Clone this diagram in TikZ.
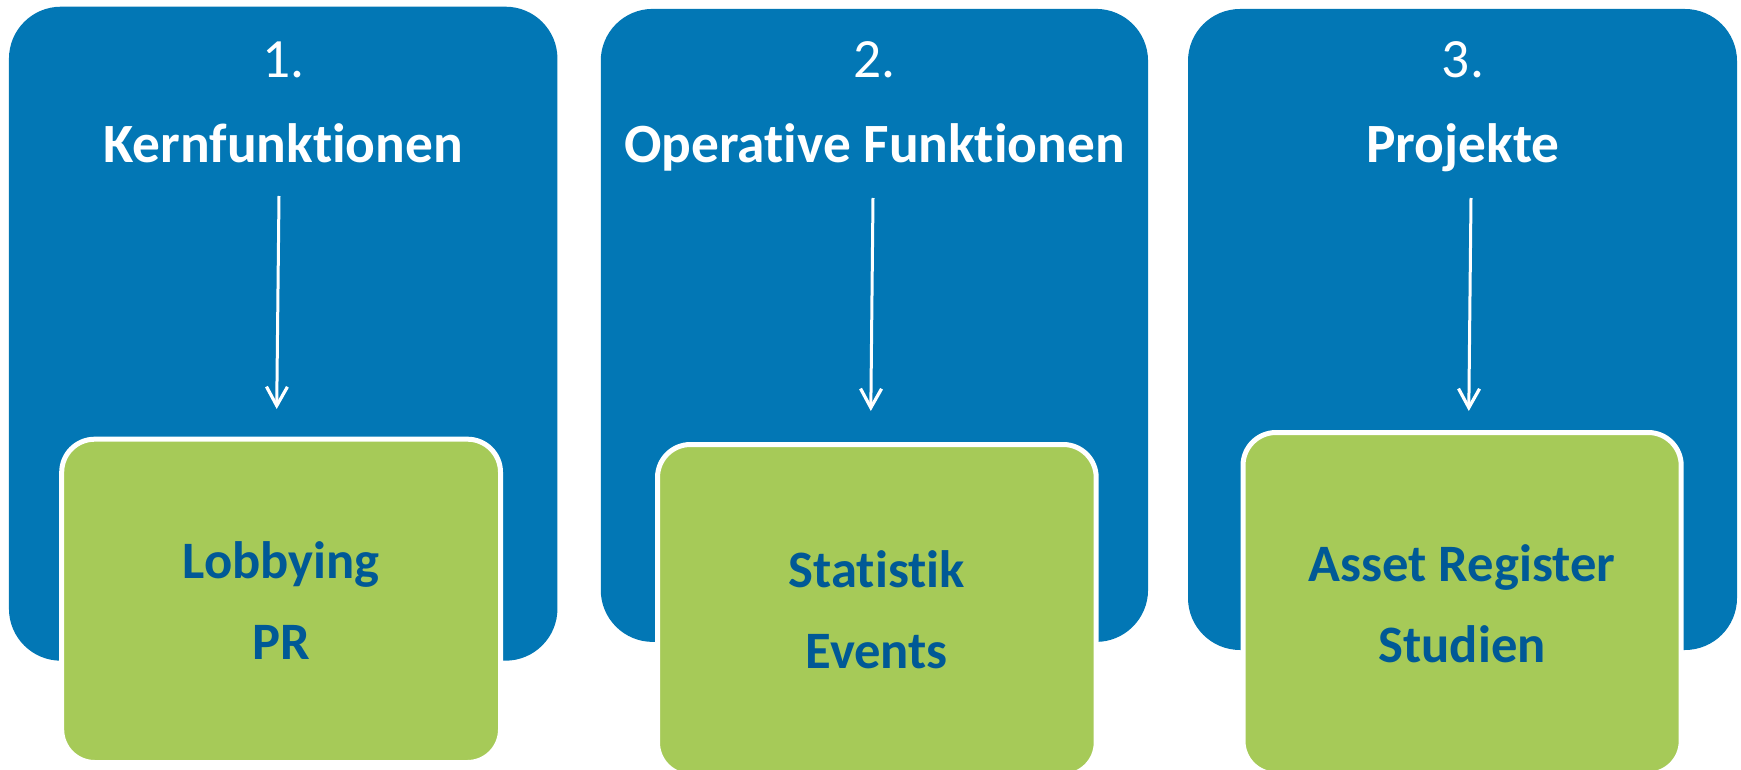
\documentclass[tikz,border=0pt]{standalone}
\usepackage{fontspec}
\setmainfont{Carlito}[RawFeature=-liga]
\usetikzlibrary{arrows.meta}
\definecolor{boxblue}{RGB}{2,119,181}
\definecolor{boxgreen}{RGB}{166,202,88}
\definecolor{textblue}{RGB}{0,89,150}
\begin{document}
\begin{tikzpicture}[x=0.5pt,y=-0.5pt,
  bluebox/.style={rectangle, fill=boxblue, rounded corners=26pt, inner sep=0pt},
  greenbox/.style={rectangle, fill=boxgreen, draw=white, line width=2.5pt,
    rounded corners=16.5pt, inner sep=0pt, align=center, text=textblue,
    font=\fontsize{26.3}{40.5}\selectfont\bfseries},
  numlabel/.style={anchor=base, text=white, inner sep=0pt,
    font=\fontsize{27.7}{30}\selectfont},
  titlelabel/.style={anchor=base, text=white, inner sep=0pt,
    font=\fontsize{27.7}{30}\selectfont\bfseries},
  arr/.style={draw=white, line width=1.5pt,
    -{Straight Barb[length=9.5pt,width=10.5pt,line width=1.6pt]}}
]
\useasboundingbox (0,0) rectangle (1741,770);

% blue panels
\node[bluebox, minimum width=274.25pt, minimum height=327pt] (b1) at (283.2,333.7) {};
\node[bluebox, minimum width=273.65pt, minimum height=316.5pt] (b2) at (874.4,325.4) {};
\node[bluebox, minimum width=274.5pt, minimum height=320.5pt] (b3) at (1462.5,329.5) {};

% headings
\node[numlabel] (n1) at (283.2,78) {1.};
\node[titlelabel] (t1) at (283.2,163) {Kernfunktionen};
\node[numlabel] (n2) at (874.6,78) {2.};
\node[titlelabel] (t2) at (874.6,163) {Operative Funktionen};
\node[numlabel] (n3) at (1463,78) {3.};
\node[titlelabel] (t3) at (1463,163) {Projekte};

% arrows
\coordinate (a1s) at (279,196);
\coordinate (a1e) at (276.7,409);
\coordinate (a2s) at (873,198);
\coordinate (a2e) at (870.8,411);
\coordinate (a3s) at (1471,198);
\coordinate (a3e) at (1468.8,411);
\draw[arr] (a1s) -- (a1e);
\draw[arr] (a2s) -- (a2e);
\draw[arr] (a3s) -- (a3e);

% green boxes
\node[greenbox, minimum width=219.4pt, minimum height=161.65pt] (g1) at (281.1,600.85) {Lobbying\\PR};
\node[greenbox, minimum width=219.35pt, minimum height=165.5pt] (g2) at (876.85,610) {Statistik\\Events};
\node[greenbox, minimum width=219.1pt, minimum height=170.75pt] (g3) at (1462.1,603.25) {Asset Register\\Studien};
\end{tikzpicture}
\end{document}
